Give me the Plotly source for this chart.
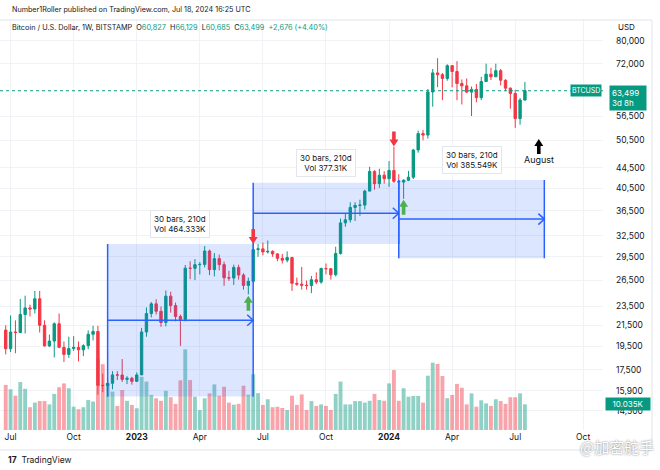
import math
import pandas as pd
import plotly.graph_objects as go

# ---------------- data (weekly BTCUSD, Bitstamp) ----------------
WEEK_START = "2022-06-27"
OPEN = [21030, 19300, 20850, 20800, 22600, 23300, 23180, 24300, 21500, 19550,
        19990, 21650, 19420, 18800, 19310, 19420, 19200, 19570, 20630, 20900,
        16300, 16280, 16450, 17100, 17090, 16750, 16840,
        16600, 17100, 20850, 22700, 23740, 22940, 21780, 24600, 23550, 22400,
        22100, 27990, 27970, 28450, 28480, 30300, 27800, 29250, 28450, 26780,
        26750, 28080, 27120, 25850, 26340, 30500, 30600, 30170, 30250, 29900,
        29300, 29050, 29400, 26100, 26000, 25870, 25830, 26530, 26250, 27950,
        27920, 27150, 29950, 34500, 35000, 37050, 37400, 37450, 39950, 43750,
        41350, 43000,
        42300, 43950, 41800, 41650, 42000, 42600, 48300, 52100, 51750, 63150,
        68950, 68400, 67200, 71300, 69400, 65650, 64950, 63100, 63900, 61500,
        66250, 68550, 67750, 69650, 66650, 64250, 62700, 55850, 60827]
HIGH = [21500, 22500, 22000, 24280, 24650, 23650, 25200, 25200, 22000, 20600,
        21800, 22700, 19950, 20400, 20450, 19950, 19700, 21000, 21450, 21450,
        17200, 16800, 17400, 17400, 18400, 17000, 16950,
        17300, 21250, 23350, 23950, 24250, 23450, 25250, 25100, 23880, 22600,
        28400, 28900, 29200, 28800, 31000, 30500, 30000, 29800, 28850, 27650,
        28450, 28450, 27350, 26800, 31400, 31300, 31500, 31800, 30400, 30000,
        29900, 30250, 29500, 26800, 28150, 26450, 27000, 27450, 28050, 28600,
        28000, 30900, 35200, 35950, 37950, 37950, 38400, 40200, 44700, 44000,
        44300, 43800,
        45900, 49000, 43200, 42200, 43850, 48550, 52800, 52950, 64000, 70200,
        73800, 68900, 71750, 71400, 72800, 66900, 67200, 64750, 65500, 67700,
        71950, 70600, 71950, 70200, 66950, 64500, 63800, 61400, 66129]
LOW = [18800, 19000, 18900, 20750, 20700, 22400, 22700, 20800, 19500, 19450,
       18540, 19350, 18150, 18500, 19100, 18200, 18650, 19250, 20050, 15600,
       15800, 15500, 16000, 16700, 16550, 16400, 16350,
       16550, 17100, 20400, 22300, 22600, 21350, 21400, 22800, 21900, 19550,
       21900, 26600, 26500, 27200, 28100, 27100, 26950, 27700, 25800, 26400,
       25900, 26550, 25350, 24800, 26300, 29500, 29700, 29950, 29500, 28900,
       28600, 28750, 25200, 25800, 25350, 25350, 24950, 26000, 26050, 27200,
       26550, 26950, 29800, 33900, 34550, 34800, 35650, 36700, 39950, 40200,
       40550, 41350,
       40750, 41500, 40300, 38550, 41850, 42250, 47700, 50500, 50900, 59000,
       64550, 60800, 66500, 64500, 60800, 59600, 62800, 56500, 60200, 60800,
       66150, 66700, 67600, 65100, 63400, 58450, 53500, 54300, 60685]
CLOSE = [19300, 20850, 20800, 22600, 23300, 23180, 24300, 21500, 19550, 19990,
         21650, 19420, 18800, 19310, 19420, 19200, 19570, 20630, 20900, 16300,
         16280, 16450, 17100, 17090, 16750, 16840, 16600,
         17100, 20850, 22700, 23740, 22940, 21780, 24600, 23550, 22400, 22100,
         27990, 27970, 28450, 28480, 30300, 27800, 29250, 28450, 26780, 26750,
         28080, 27120, 25850, 26340, 30500, 30600, 30170, 30250, 29900, 29300,
         29050, 29400, 26100, 26000, 25870, 25830, 26530, 26250, 27950, 27920,
         27150, 29950, 34500, 35000, 37050, 37400, 37450, 39950, 43750, 41350,
         43000, 42300,
         43950, 41800, 41650, 42000, 42600, 48300, 52100, 51750, 63150, 68950,
         68400, 67200, 71300, 69400, 65650, 64950, 63100, 63900, 61500, 66250,
         68550, 67750, 69650, 66650, 64250, 62700, 55850, 60830, 63499]
VOLUME_K = [17.6, 15.9, 13.4, 18.7, 16.1, 8.9, 10.7, 11.3, 11.3, 10.0,
            14.1, 16.7, 18.2, 16.3, 9.1, 8.1, 8.9, 11.7, 11.1, 28.0,
            25.7, 18.2, 15.0, 9.4, 15.6, 11.4, 9.8,
            8.5, 20.8, 18.9, 13.7, 12.4, 11.4, 15.3, 12.8, 10.2, 19.4,
            31.5, 19.5, 13.0, 7.8, 12.4, 14.3, 17.8, 13.4, 16.9, 10.7,
            9.9, 10.2, 17.3, 13.8, 21.8, 14.4, 9.8, 12.0, 8.9, 9.1,
            8.6, 7.8, 13.4, 9.8, 13.9, 7.8, 11.3, 9.4, 10.0, 9.4,
            7.8, 14.1, 18.9, 10.0, 10.0, 11.3, 11.3, 10.7, 11.4, 14.1,
            11.7, 11.4,
            18.2, 23.4, 11.4, 16.3, 13.0, 13.3, 13.3, 10.7, 21.2, 26.3,
            25.8, 21.1, 12.4, 13.7, 18.0, 16.5, 10.0, 14.3, 9.1, 11.6,
            10.4, 9.4, 12.0, 11.3, 10.2, 12.8, 12.8, 14.3, 10.035]

PRICE_TICKS = [80000, 72000, 56500, 50500, 44500, 40500, 36500, 32500, 29500,
               26500, 23500, 21500, 19500, 17500, 15900, 14500]
TIME_TICKS = ["2022-07-04", "2022-10-03", "2023-01-02", "2023-04-03", "2023-07-03",
              "2023-10-02", "2024-01-01", "2024-04-01", "2024-07-01", "2024-10-07"]
TIME_TICK_TEXT = ["Jul", "Oct", "<b>2023</b>", "Apr", "Jul", "Oct", "<b>2024</b>",
                  "Apr", "Jul", "Oct"]

RANGE_START = ["2022-11-21", "2023-06-19", "2024-01-15"]
RANGE_END = ["2023-06-19", "2024-01-15", "2024-08-12"]
RANGE_LOW = [15470, 31300, 29300]
RANGE_HIGH = [31300, 41540, 42060]
RANGE_LABEL = ["30 bars, 210d<br>Vol 464.333K",
               "30 bars, 210d<br>Vol 377.31K",
               "30 bars, 210d<br>Vol 385.549K"]

MARK_DATE = ["2023-06-19", "2023-06-12", "2024-01-08", "2024-01-22", "2024-08-04"]
MARK_PRICE = [31300, 24650, 49100, 38400, 50800]
MARK_DIR = ["down", "up", "down", "up", "up"]
MARK_COLOR = ["#F23645", "#4CAF50", "#F23645", "#4CAF50", "#000000"]
AUGUST_PRICE = 46330

LAST_PRICE = 63499
LAST_VOLUME_K = 10.035

# ---------------- layout geometry ----------------
W, H = 660, 470
M_L, M_R, M_T, M_B = 0, 57, 20, 40
PW = W - M_L - M_R
PH = H - M_T - M_B

X0 = pd.Timestamp("2022-07-01") - pd.Timedelta(days=12.26)
X1 = X0 + pd.Timedelta(days=869.9)
P_LO, P_HI = 13260, 88025
V_TOP = 160.1

DAYS_PER_PX = (X1 - X0) / pd.Timedelta(days=1) / PW
LN_PER_PX = (math.log(P_HI) - math.log(P_LO)) / PH

UP = "#089981"
DOWN = "#F23645"
LINE_BLUE = "#2962FF"
TXT = "#131722"
FONT = "Inter"


def off_date(d, px):
    return pd.Timestamp(d) + pd.Timedelta(days=px * DAYS_PER_PX)


def off_price(p, px_up):
    return p * math.exp(px_up * LN_PER_PX)


def pxx(px):
    return (px - M_L) / PW


def pxy(py):
    return (M_T + PH - py) / PH


dates = pd.date_range(WEEK_START, periods=len(OPEN), freq="7D")
vol_colors = ["rgba(8,153,129,0.45)" if c >= o else "rgba(242,54,69,0.45)"
              for o, c in zip(OPEN, CLOSE)]

fig = go.Figure()

# volume (base axis, drawn underneath)
fig.add_trace(go.Bar(x=dates, y=VOLUME_K, marker_color=vol_colors,
                     marker_line_width=0, width=5.6 * 86400000,
                     yaxis="y", xaxis="x", hoverinfo="skip"))

# candles
fig.add_trace(go.Candlestick(x=dates, open=OPEN, high=HIGH, low=LOW, close=CLOSE,
                             yaxis="y2", xaxis="x",
                             increasing=dict(line=dict(color=UP, width=1), fillcolor=UP),
                             decreasing=dict(line=dict(color=DOWN, width=1), fillcolor=DOWN),
                             whiskerwidth=0, hoverinfo="skip"))

# last price dotted line
fig.add_trace(go.Scatter(x=[X0, X1], y=[LAST_PRICE, LAST_PRICE], mode="lines",
                         line=dict(color=UP, width=1, dash="dot"), yaxis="y2",
                         hoverinfo="skip"))

# date ranges
annotations = []
for s, e, lo, hi, lab in zip(RANGE_START, RANGE_END, RANGE_LOW, RANGE_HIGH, RANGE_LABEL):
    s_t, e_t = pd.Timestamp(s), pd.Timestamp(e)
    mid = math.sqrt(lo * hi)
    fig.add_trace(go.Scatter(x=[s_t, e_t, e_t, s_t, s_t], y=[lo, lo, hi, hi, lo],
                             mode="lines", fill="toself", fillcolor="rgba(41,98,255,0.16)",
                             line=dict(width=0), yaxis="y2", hoverinfo="skip"))
    fig.add_trace(go.Scatter(x=[s_t, s_t, None, e_t, e_t], y=[lo, hi, None, lo, hi],
                             mode="lines", line=dict(color=LINE_BLUE, width=1.5),
                             yaxis="y2", hoverinfo="skip"))
    fig.add_trace(go.Scatter(x=[s_t, e_t, None, off_date(e_t, -6), e_t, off_date(e_t, -6)],
                             y=[mid, mid, None, off_price(mid, 5.5), mid, off_price(mid, -5.5)],
                             mode="lines", line=dict(color=LINE_BLUE, width=1.5),
                             yaxis="y2", hoverinfo="skip"))
    annotations.append(dict(x=str(s_t + (e_t - s_t) / 2), y=math.log10(hi), xref="x", yref="y2",
                            text=lab, showarrow=False, xanchor="center", yanchor="bottom", yshift=6,
                            font=dict(family=FONT, size=8, color=TXT),
                            bgcolor="white", bordercolor="#E3E6EC", borderwidth=1,
                            borderpad=3, align="center"))

# arrow marks
ARROW_SHAPE = [(0, 0), (4.5, -7), (1.8, -7), (1.8, -15), (-1.8, -15), (-1.8, -7), (-4.5, -7), (0, 0)]
for d, p, direc, col in zip(MARK_DATE, MARK_PRICE, MARK_DIR, MARK_COLOR):
    sgn = 1 if direc == "up" else -1
    xs = [off_date(d, dx) for dx, dy in ARROW_SHAPE]
    ys = [off_price(p, sgn * dy) for dx, dy in ARROW_SHAPE]
    fig.add_trace(go.Scatter(x=xs, y=ys, mode="lines", fill="toself", fillcolor=col,
                             line=dict(width=0, color=col), yaxis="y2", hoverinfo="skip"))

annotations.append(dict(x=MARK_DATE[-1], y=math.log10(AUGUST_PRICE), xref="x", yref="y2",
                        text="August", showarrow=False, xanchor="center", yanchor="middle",
                        font=dict(family=FONT, size=9, color=TXT)))

# right-side labels
annotations.append(dict(x=pxx(609), y=math.log10(LAST_PRICE), xref="paper", yref="y2",
                        text="63,499<br>3d 8h", showarrow=False, xanchor="left", yanchor="top",
                        yshift=6, align="left", bgcolor=UP, borderpad=2, width=32,
                        font=dict(family=FONT, size=8, color="white")))
annotations.append(dict(x=pxx(602), y=math.log10(LAST_PRICE), xref="paper", yref="y2",
                        text="BTCUSD", showarrow=False, xanchor="right", yanchor="middle",
                        bgcolor=UP, borderpad=1,
                        font=dict(family=FONT, size=7, color="white")))
annotations.append(dict(x=pxx(605), y=LAST_VOLUME_K, xref="paper", yref="y",
                        text="10.035K", showarrow=False, xanchor="left", yanchor="middle",
                        bgcolor=UP, borderpad=1, width=42,
                        font=dict(family=FONT, size=8, color="white")))
annotations.append(dict(x=pxx(626), y=pxy(27), xref="paper", yref="paper",
                        xanchor="center", yanchor="middle",
                        text="USD", showarrow=False, font=dict(family=FONT, size=8, color=TXT)))

# header / footer
annotations.append(dict(x=pxx(10), y=pxy(10), xref="paper", yref="paper",
                        xanchor="left", yanchor="middle",
                        text="Number1Roller published on TradingView.com, Jul 18, 2024 16:25 UTC",
                        showarrow=False, font=dict(family=FONT, size=7.2, color=TXT)))
G = UP
hdr = ("Bitcoin / U.S. Dollar, 1W, BITSTAMP  "
       f"O<span style='color:{G}'>60,827</span>  H<span style='color:{G}'>66,129</span>  "
       f"L<span style='color:{G}'>60,685</span>  C<span style='color:{G}'>63,499</span>  "
       f"<span style='color:{G}'>+2,676 (+4.40%)</span>")
annotations.append(dict(x=pxx(10), y=pxy(27), xref="paper", yref="paper",
                        xanchor="left", yanchor="middle",
                        text=hdr, showarrow=False, font=dict(family=FONT, size=7.3, color=TXT)))
annotations.append(dict(x=pxx(6), y=pxy(460), xref="paper", yref="paper",
                        xanchor="left", yanchor="middle",
                        text="<b>17</b>  TradingView", showarrow=False,
                        font=dict(family=FONT, size=8.5, color=TXT)))
annotations.append(dict(x=pxx(656), y=pxy(446), xref="paper", yref="paper",
                        xanchor="right", yanchor="middle",
                        text="@加密舵手", showarrow=False,
                        font=dict(family="Noto Sans CJK SC", size=15, color="#FFFFFF",
                                  shadow="0px 0px 2px #666666")))

shapes = [
    dict(type="line", xref="paper", yref="paper", x0=pxx(0), x1=pxx(652), y0=pxy(20), y1=pxy(20),
         line=dict(color="#E0E3EB", width=1)),
    dict(type="line", xref="paper", yref="paper", x0=pxx(652), x1=pxx(652), y0=pxy(20), y1=pxy(450),
         line=dict(color="#E0E3EB", width=1)),
    dict(type="line", xref="paper", yref="paper", x0=pxx(0), x1=pxx(652), y0=pxy(450), y1=pxy(450),
         line=dict(color="#E0E3EB", width=1)),
]

fig.update_layout(
    width=W, height=H, margin=dict(l=M_L, r=M_R, t=M_T, b=M_B, autoexpand=False),
    paper_bgcolor="white", plot_bgcolor="white", showlegend=False, hovermode=False,
    font=dict(family=FONT, size=9, color=TXT),
    xaxis=dict(type="date", range=[X0, X1], tickvals=TIME_TICKS, ticktext=TIME_TICK_TEXT,
               showgrid=True, gridcolor="#F0F2F6", gridwidth=1, zeroline=False,
               rangeslider=dict(visible=False), ticks="", showline=False, automargin=False,
               tickfont=dict(family=FONT, size=8.5, color=TXT)),
    yaxis=dict(range=[0, V_TOP], visible=False, fixedrange=True, automargin=False),
    yaxis2=dict(type="log", overlaying="y", side="right",
                range=[math.log10(P_LO), math.log10(P_HI)],
                tickvals=PRICE_TICKS, ticktext=[f"{v:,}" for v in PRICE_TICKS],
                showgrid=True, gridcolor="#F0F2F6", gridwidth=1, zeroline=False,
                ticks="", ticklabelstandoff=12, showline=False, automargin=False,
                tickfont=dict(family=FONT, size=8.5, color=TXT)),
    annotations=annotations, shapes=shapes,
)

fig.write_html("out.html", config={"displayModeBar": False},
               post_script="document.body.style.margin='0';document.body.style.overflow='hidden';")
